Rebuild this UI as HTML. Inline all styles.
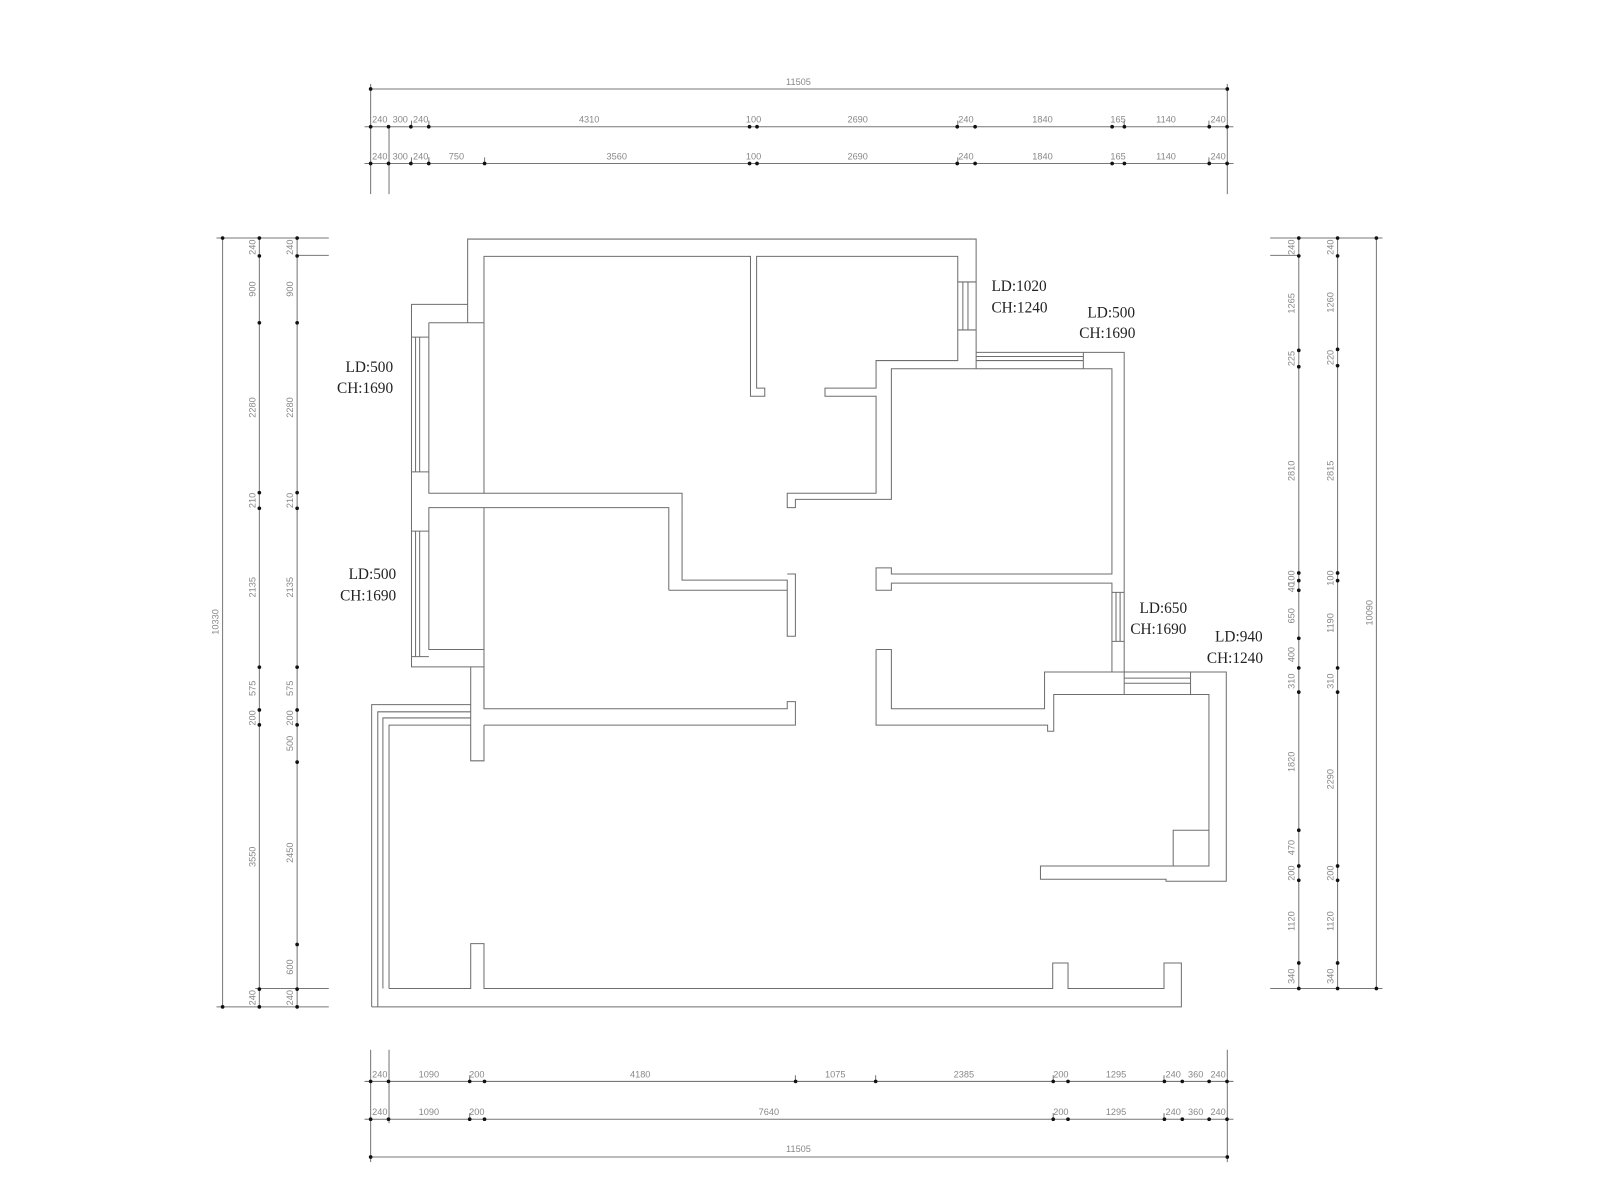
<!DOCTYPE html>
<html><head><meta charset="utf-8"><style>
html,body{margin:0;padding:0;background:#fff;}
svg{display:block}
.w{stroke:#6e6e6e;stroke-width:1;fill:none}
.d{stroke:#777;stroke-width:1;fill:none}
.t{font-family:"Liberation Sans",sans-serif;font-size:9px;fill:#888}
.lb{font-family:"Liberation Serif",serif;font-size:15px;fill:#222}
</style></head><body>
<svg width="1600" height="1200" viewBox="0 0 1567 1175" xmlns="http://www.w3.org/2000/svg">
<g class="d">
<path d="M363 87H1202M357 124H1208M357 160H1208M363 82V190M381 124V190M1202 82V190"/>
<path d="M403 118V124M420 118V124M938 118V124M1184 118V124M1101 118V124M403 154V160M420 154V160M474.6 154V160M938 154V160M1184 154V160"/>
<path d="M357 1059H1208M357 1096H1208M363 1133H1202M363 1028V1138M381 1028V1100M1202 1028V1138"/>
<path d="M460 1053V1059M779 1053V1059M857.6 1053V1059M1031.5 1053V1059M1140 1053V1059M460 1090V1096M1031.5 1090V1096M1140 1090V1096"/>
<path d="M218 233V986M254 233V986M291 233V986M212 233H322M291 250H322M250 968H322M212 986H322"/>
<path d="M1272 233V968M1310 233V968M1348 233V968M1244 233H1354M1244 250H1272M1244 968H1354"/>
</g>
<g fill="#111">
<circle cx="363" cy="87" r="1.8"/><circle cx="1202" cy="87" r="1.8"/>
<g id="tr"><circle cx="363" cy="124" r="1.8"/><circle cx="380.5" cy="124" r="1.8"/><circle cx="402.4" cy="124" r="1.8"/><circle cx="419.9" cy="124" r="1.8"/><circle cx="734.1" cy="124" r="1.8"/><circle cx="741.4" cy="124" r="1.8"/><circle cx="937.5" cy="124" r="1.8"/><circle cx="955" cy="124" r="1.8"/><circle cx="1089.2" cy="124" r="1.8"/><circle cx="1101.2" cy="124" r="1.8"/><circle cx="1184.3" cy="124" r="1.8"/><circle cx="1201.8" cy="124" r="1.8"/></g>
<use href="#tr" y="36"/><circle cx="474.6" cy="160" r="1.8"/>
<g id="br"><circle cx="363" cy="1096" r="1.8"/><circle cx="380.5" cy="1096" r="1.8"/><circle cx="460" cy="1096" r="1.8"/><circle cx="474.5" cy="1096" r="1.8"/><circle cx="1031.5" cy="1096" r="1.8"/><circle cx="1046" cy="1096" r="1.8"/><circle cx="1140.4" cy="1096" r="1.8"/><circle cx="1157.9" cy="1096" r="1.8"/><circle cx="1184.2" cy="1096" r="1.8"/><circle cx="1201.7" cy="1096" r="1.8"/></g>
<use href="#br" y="-37"/><circle cx="779.2" cy="1059" r="1.8"/><circle cx="857.6" cy="1059" r="1.8"/>
<circle cx="363" cy="1133" r="1.8"/><circle cx="1202" cy="1133" r="1.8"/>
<circle cx="218" cy="233" r="1.8"/><circle cx="218" cy="986" r="1.8"/>
<circle cx="254" cy="233" r="1.8"/><circle cx="254" cy="250.5" r="1.8"/><circle cx="254" cy="316" r="1.8"/><circle cx="254" cy="482.4" r="1.8"/><circle cx="254" cy="497.7" r="1.8"/><circle cx="254" cy="653.3" r="1.8"/><circle cx="254" cy="695.2" r="1.8"/><circle cx="254" cy="709.8" r="1.8"/><circle cx="254" cy="968.6" r="1.8"/><circle cx="254" cy="986" r="1.8"/>
<circle cx="291" cy="233" r="1.8"/><circle cx="291" cy="250.5" r="1.8"/><circle cx="291" cy="316" r="1.8"/><circle cx="291" cy="482.4" r="1.8"/><circle cx="291" cy="497.7" r="1.8"/><circle cx="291" cy="653.3" r="1.8"/><circle cx="291" cy="695.2" r="1.8"/><circle cx="291" cy="709.8" r="1.8"/><circle cx="291" cy="746.3" r="1.8"/><circle cx="291" cy="924.9" r="1.8"/><circle cx="291" cy="968.6" r="1.8"/><circle cx="291" cy="986" r="1.8"/>
<circle cx="1348" cy="233" r="1.8"/><circle cx="1348" cy="968" r="1.8"/>
<circle cx="1272" cy="233" r="1.8"/><circle cx="1272" cy="250.5" r="1.8"/><circle cx="1272" cy="343" r="1.8"/><circle cx="1272" cy="359" r="1.8"/><circle cx="1272" cy="561" r="1.8"/><circle cx="1272" cy="568.5" r="1.8"/><circle cx="1272" cy="578" r="1.8"/><circle cx="1272" cy="625" r="1.8"/><circle cx="1272" cy="654" r="1.8"/><circle cx="1272" cy="677.7" r="1.8"/><circle cx="1272" cy="813" r="1.8"/><circle cx="1272" cy="848" r="1.8"/><circle cx="1272" cy="862" r="1.8"/><circle cx="1272" cy="943" r="1.8"/><circle cx="1272" cy="968" r="1.8"/>
<circle cx="1310" cy="233" r="1.8"/><circle cx="1310" cy="250.5" r="1.8"/><circle cx="1310" cy="342" r="1.8"/><circle cx="1310" cy="358" r="1.8"/><circle cx="1310" cy="561" r="1.8"/><circle cx="1310" cy="568.5" r="1.8"/><circle cx="1310" cy="654" r="1.8"/><circle cx="1310" cy="677.7" r="1.8"/><circle cx="1310" cy="848" r="1.8"/><circle cx="1310" cy="862" r="1.8"/><circle cx="1310" cy="943" r="1.8"/><circle cx="1310" cy="968" r="1.8"/>
</g>
<g class="t" text-anchor="middle">
<text x="782" y="83">11505</text>
<text x="372" y="120">240</text><text x="392" y="120">300</text><text x="412" y="120">240</text><text x="577" y="120">4310</text><text x="738" y="120">100</text><text x="840" y="120">2690</text><text x="946" y="120">240</text><text x="1021" y="120">1840</text><text x="1095" y="120">165</text><text x="1142" y="120">1140</text><text x="1193" y="120">240</text>
<text x="372" y="156">240</text><text x="392" y="156">300</text><text x="412" y="156">240</text><text x="447" y="156">750</text><text x="604" y="156">3560</text><text x="738" y="156">100</text><text x="840" y="156">2690</text><text x="946" y="156">240</text><text x="1021" y="156">1840</text><text x="1095" y="156">165</text><text x="1142" y="156">1140</text><text x="1193" y="156">240</text>
<text x="372" y="1055">240</text><text x="420" y="1055">1090</text><text x="467" y="1055">200</text><text x="627" y="1055">4180</text><text x="818" y="1055">1075</text><text x="944" y="1055">2385</text><text x="1039" y="1055">200</text><text x="1093" y="1055">1295</text><text x="1149" y="1055">240</text><text x="1171" y="1055">360</text><text x="1193" y="1055">240</text>
<text x="372" y="1092">240</text><text x="420" y="1092">1090</text><text x="467" y="1092">200</text><text x="753" y="1092">7640</text><text x="1039" y="1092">200</text><text x="1093" y="1092">1295</text><text x="1149" y="1092">240</text><text x="1171" y="1092">360</text><text x="1193" y="1092">240</text>
<text x="782" y="1128">11505</text>
</g>
<g class="t" text-anchor="middle">
<text transform="translate(214 609) rotate(-90)">10330</text>
<text transform="translate(250 242) rotate(-90)">240</text><text transform="translate(250 283) rotate(-90)">900</text><text transform="translate(250 399) rotate(-90)">2280</text><text transform="translate(250 490) rotate(-90)">210</text><text transform="translate(250 575) rotate(-90)">2135</text><text transform="translate(250 674) rotate(-90)">575</text><text transform="translate(250 703) rotate(-90)">200</text><text transform="translate(250 839) rotate(-90)">3550</text><text transform="translate(250 977) rotate(-90)">240</text>
<text transform="translate(287 242) rotate(-90)">240</text><text transform="translate(287 283) rotate(-90)">900</text><text transform="translate(287 399) rotate(-90)">2280</text><text transform="translate(287 490) rotate(-90)">210</text><text transform="translate(287 575) rotate(-90)">2135</text><text transform="translate(287 674) rotate(-90)">575</text><text transform="translate(287 703) rotate(-90)">200</text><text transform="translate(287 728) rotate(-90)">500</text><text transform="translate(287 835) rotate(-90)">2450</text><text transform="translate(287 947) rotate(-90)">600</text><text transform="translate(287 977) rotate(-90)">240</text>
<text transform="translate(1344 600) rotate(-90)">10090</text>
<text transform="translate(1268 242) rotate(-90)">240</text><text transform="translate(1268 297) rotate(-90)">1265</text><text transform="translate(1268 351) rotate(-90)">225</text><text transform="translate(1268 461) rotate(-90)">2810</text><text transform="translate(1268 566) rotate(-90)">100</text><text transform="translate(1268 575) rotate(-90)">40</text><text transform="translate(1268 603) rotate(-90)">650</text><text transform="translate(1268 641) rotate(-90)">400</text><text transform="translate(1268 667) rotate(-90)">310</text><text transform="translate(1268 746) rotate(-90)">1820</text><text transform="translate(1268 830) rotate(-90)">470</text><text transform="translate(1268 855) rotate(-90)">200</text><text transform="translate(1268 902) rotate(-90)">1120</text><text transform="translate(1268 956) rotate(-90)">340</text>
<text transform="translate(1306 242) rotate(-90)">240</text><text transform="translate(1306 296) rotate(-90)">1260</text><text transform="translate(1306 350) rotate(-90)">220</text><text transform="translate(1306 461) rotate(-90)">2815</text><text transform="translate(1306 566) rotate(-90)">100</text><text transform="translate(1306 610) rotate(-90)">1190</text><text transform="translate(1306 667) rotate(-90)">310</text><text transform="translate(1306 763) rotate(-90)">2290</text><text transform="translate(1306 855) rotate(-90)">200</text><text transform="translate(1306 902) rotate(-90)">1120</text><text transform="translate(1306 956) rotate(-90)">340</text>
</g>
<g class="w">
<path d="M458 316V234H956V345"/>
<path d="M474 316V251H735V388H749V380H741V251H938V353H858V380H808V388H858V483H771V497H779V489H873V361H1089V562H873V556H858V578H873V571H1089V658"/>
<path d="M956 345H1101V658"/>
<path d="M1061 345V361M956 349H1061M956 353H1061M956 361V345"/>
<path d="M938 276H956M938 323H956M943 276V323M948 276V323"/>
<path d="M458 298H403V653H474M420 316H474M474 316V483M420 316V483H668V568H771V623H779V562H771M655 578H771M655 578V497H420V636H474M474 497V694H771V687H779V710H474"/>
<path d="M407 330V462M411 330V462M403 330H420M403 462H420M407 520V643M411 520V643M403 520H420M403 643H420"/>
<path d="M461 653V745H474V710M474 694V653"/>
<path d="M364 986V690H461M370 986V697H461M375 968V703H461M381 968V710H461"/>
<path d="M364 986H1157V943H1140V968H1046V943H1031V968H474V924H461V968H381"/>
<path d="M1093 580V628M1097 580V628M1089 580H1101M1089 628H1101"/>
<path d="M858 636H873V694H1023V658H1201V863H1142V861H1019V848H1184V680H1032V716H1026V710H858V636"/>
<path d="M1101 664H1166M1101 669H1166M1101 658V680M1166 658V680M1101 680H1184"/>
<path d="M1149 848V813H1184"/>
</g>
<g class="lb">
<text x="971" y="285">LD:1020</text><text x="971" y="306">CH:1240</text>
<text x="1065" y="311">LD:500</text><text x="1057" y="331">CH:1690</text>
<text x="385" y="364" text-anchor="end">LD:500</text><text x="385" y="385" text-anchor="end">CH:1690</text>
<text x="388" y="567" text-anchor="end">LD:500</text><text x="388" y="588" text-anchor="end">CH:1690</text>
<text x="1116" y="600">LD:650</text><text x="1107" y="621">CH:1690</text>
<text x="1190" y="628">LD:940</text><text x="1182" y="649">CH:1240</text>
</g>
</svg>
</body></html>
